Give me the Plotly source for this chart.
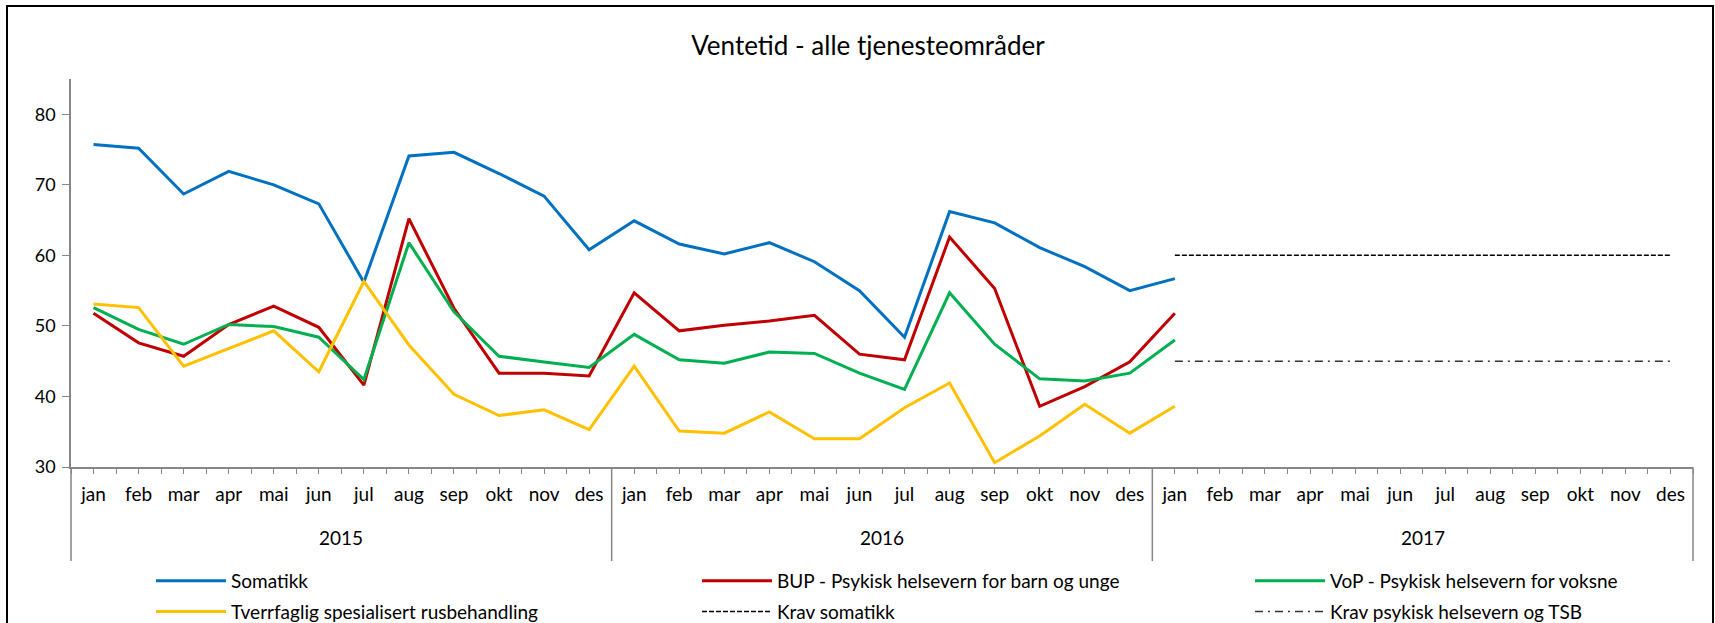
import plotly.graph_objects as go

years = ["2015", "2016", "2017"]
months = ["jan", "feb", "mar", "apr", "mai", "jun", "jul", "aug", "sep", "okt", "nov", "des"]

somatikk = [75.7, 75.2, 68.7, 71.9, 70.0, 67.3, 56.2, 74.1, 74.6, 71.6, 68.4, 60.8,
            64.9, 61.6, 60.2, 61.8, 59.1, 55.0, 48.4, 66.2, 64.6, 61.1, 58.4, 55.0,
            56.7] + [None] * 11
bup = [51.8, 47.6, 45.7, 50.2, 52.8, 49.8, 41.6, 65.2, 52.5, 43.3, 43.3, 42.9,
       54.7, 49.3, 50.1, 50.7, 51.5, 46.0, 45.2, 62.6, 55.3, 38.6, 41.4, 44.9,
       51.8] + [None] * 11
vop = [52.6, 49.5, 47.4, 50.2, 49.9, 48.4, 42.4, 61.8, 52.0, 45.7, 44.9, 44.1,
       48.8, 45.2, 44.7, 46.3, 46.1, 43.3, 41.0, 54.7, 47.4, 42.5, 42.2, 43.3,
       48.0] + [None] * 11
tsb = [53.1, 52.6, 44.3, 46.8, 49.3, 43.5, 56.3, 47.3, 40.3, 37.3, 38.1, 35.3,
       44.3, 35.1, 34.8, 37.8, 34.0, 34.0, 38.4, 41.9, 30.6, 34.4, 38.9, 34.8,
       38.6] + [None] * 11
krav_somatikk = [None] * 24 + [60] * 12
krav_psyk = [None] * 24 + [45] * 12

names = ["Somatikk", "BUP - Psykisk helsevern for barn og unge", "VoP - Psykisk helsevern for voksne",
         "Tverrfaglig spesialisert rusbehandling", "Krav somatikk", "Krav psykisk helsevern og TSB"]

cats = [m for y in years for m in months]
x = list(range(len(cats)))
n = len(cats)

FONT = "Lato"
W, H = 1715, 623
L, R, T, B = 71, 22, 79, 156
pw, ph = W - L - R, H - T - B

def px2paper_x(p):
    return (p - L) / pw

def px2paper_y(p):
    return (H - B - p) / ph

fig = go.Figure()
series = [
    (somatikk, "#0070C0", None, 3, "legend"),
    (bup, "#C00000", None, 3, "legend2"),
    (vop, "#00B050", None, 3, "legend3"),
    (tsb, "#FFC000", None, 3, "legend"),
    (krav_somatikk, "#000000", "5px,2px", 1.5, "legend2"),
    (krav_psyk, "#333333", "8px,5px,2px,5px", 1.5, "legend3"),
]
for i, ((vals, col, dash, w, lg), nm) in enumerate(zip(series, names)):
    fig.add_trace(go.Scatter(x=x, y=vals, mode="lines", name=nm, legend=lg,
                             legendgroup="g%d" % i,
                             line=dict(color=col, width=w, dash=dash or "solid"),
                             connectgaps=False))

axis_col = "#868686"
fig.update_xaxes(range=[-0.5, n - 0.5], tickvals=x, ticktext=cats, showline=True,
                 linecolor=axis_col, linewidth=1.5, ticks="outside", ticklen=5,
                 tickcolor=axis_col, tickwidth=1.2, showgrid=False, zeroline=False,
                 ticklabelstandoff=4,
                 minor=dict(tick0=-0.5, dtick=1, ticks="outside", ticklen=5,
                            tickcolor=axis_col, tickwidth=1.2, showgrid=False),
                 tickfont=dict(family=FONT, size=19, color="#000"))
fig.update_yaxes(range=[30, 85], tickvals=[30, 40, 50, 60, 70, 80], showline=True,
                 linecolor=axis_col, linewidth=1.5, ticks="outside", ticklen=7,
                 tickcolor=axis_col, tickwidth=1.2, showgrid=False, zeroline=False,
                 ticklabelstandoff=3,
                 tickfont=dict(family=FONT, size=18, color="#000"))

shapes = []
# year dividers
div_bottom = px2paper_y(561)
for k in range(len(years) + 1):
    xp = k * len(months) / n
    shapes.append(dict(type="line", xref="paper", yref="paper", x0=xp, x1=xp,
                       y0=div_bottom, y1=0, line=dict(color=axis_col, width=1.5)))
# outer frame
shapes.append(dict(type="rect", xref="paper", yref="paper",
                   x0=px2paper_x(7), x1=px2paper_x(1713),
                   y0=px2paper_y(660), y1=px2paper_y(6),
                   line=dict(color="#000", width=2)))

annotations = []
for k, yr in enumerate(years):
    annotations.append(dict(x=k * len(months) + (len(months) - 1) / 2, xref="x",
                            y=px2paper_y(537), yref="paper", text=yr, showarrow=False,
                            font=dict(family=FONT, size=19, color="#000"),
                            xanchor="center", yanchor="middle"))

leg_common = dict(orientation="v", xanchor="left", yanchor="top", itemwidth=70,
                  font=dict(family=FONT, size=19, color="#000"),
                  bgcolor="rgba(0,0,0,0)", tracegroupgap=3)
leg_top = px2paper_y(562)

fig.update_layout(
    width=W, height=H, margin=dict(l=L, r=R, t=T, b=B, pad=0, autoexpand=False),
    paper_bgcolor="white", plot_bgcolor="white",
    title=dict(text="Ventetid - alle tjenesteområder", x=868 / W, xanchor="center",
               y=1 - 46 / H, yanchor="middle", yref="container",
               font=dict(family=FONT, size=26, color="#000")),
    shapes=shapes, annotations=annotations,
    legend=dict(x=px2paper_x(151), y=leg_top, **leg_common),
    legend2=dict(x=px2paper_x(697), y=leg_top, **leg_common),
    legend3=dict(x=px2paper_x(1250), y=leg_top, **leg_common),
    showlegend=True,
)

fig.write_html("out.html", config={"displayModeBar": False},
               post_script="document.body.style.margin='0px';")
